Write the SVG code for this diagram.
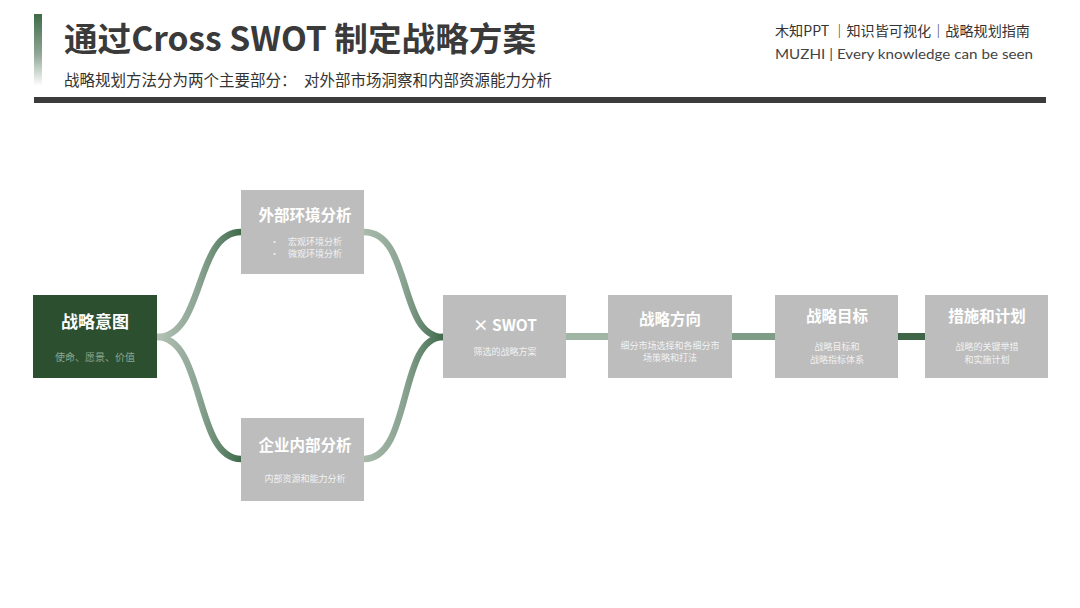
<svg xmlns="http://www.w3.org/2000/svg" width="1080" height="608" viewBox="0 0 1080 608">
<defs>
<linearGradient id="sideBar" x1="0" y1="0" x2="0" y2="1">
<stop offset="0" stop-color="#3e6b48"/>
<stop offset="0.55" stop-color="#8fa595"/>
<stop offset="1" stop-color="#ffffff"/>
</linearGradient>
<linearGradient id="gUL" gradientUnits="userSpaceOnUse" x1="157" y1="0" x2="241" y2="0">
<stop offset="0" stop-color="#b4c2b6"/>
<stop offset="0.5" stop-color="#8aa392"/>
<stop offset="1" stop-color="#3f6b4b"/>
</linearGradient>
<linearGradient id="gUR" gradientUnits="userSpaceOnUse" x1="364" y1="0" x2="443" y2="0">
<stop offset="0" stop-color="#a9baab"/>
<stop offset="0.5" stop-color="#8aa392"/>
<stop offset="1" stop-color="#3f6b4b"/>
</linearGradient>
<style>
.t{font-family:"Noto Sans CJK SC","Noto Sans",sans-serif;}
.box{fill:#bdbdbd;}
.nt{font-family:"Noto Sans CJK SC",sans-serif;font-weight:700;fill:#ffffff;text-anchor:middle;font-size:15.5px;}
.ns{font-family:"Noto Sans CJK SC",sans-serif;fill:#f2f2f2;text-anchor:middle;font-size:9px;}
.curve{fill:none;stroke-width:6.5;}
</style>
</defs>
<rect width="1080" height="608" fill="#ffffff"/>
<g id="header">
<rect x="34" y="14" width="8" height="72" fill="url(#sideBar)"/>
<text class="t" x="64" y="51" font-size="33" font-weight="700" fill="#3a3a3a" textLength="472" lengthAdjust="spacingAndGlyphs">通过Cross SWOT 制定战略方案</text>
<text class="t" x="64" y="86" font-size="15.5" fill="#333333">战略规划方法分为两个主要部分：</text>
<text class="t" x="304" y="86" font-size="15.5" fill="#333333" textLength="248" lengthAdjust="spacingAndGlyphs">对外部市场洞察和内部资源能力分析</text>
<rect x="34" y="97" width="1012" height="6" fill="#3c3c3c"/>
<text class="t" x="775" y="36" font-size="14" fill="#333333" textLength="255" lengthAdjust="spacingAndGlyphs">木知PPT ｜知识皆可视化｜战略规划指南</text>
<text x="775" y="59" font-family="Lato, sans-serif" font-size="14" fill="#444444" textLength="258" lengthAdjust="spacingAndGlyphs">MUZHI | Every knowledge can be seen</text>
</g>
<g id="connectors">
<path class="curve" stroke="url(#gUL)" d="M157,337 C205,337 194,232 241,232"/>
<path class="curve" stroke="url(#gUL)" d="M157,337 C205,337 194,459 241,459"/>
<path class="curve" stroke="url(#gUR)" d="M364,232 C412,232 398,337 443,337"/>
<path class="curve" stroke="url(#gUR)" d="M364,459 C412,459 398,337 443,337"/>
<rect x="566" y="333" width="42" height="7" fill="#a1b5a5"/>
<rect x="732" y="333" width="43" height="7" fill="#7f9c87"/>
<rect x="898" y="333" width="27" height="7" fill="#3e6547"/>
</g>
<g id="node-intent">
<rect x="33" y="295" width="124" height="83" fill="#2c4f2f"/>
<text class="nt" x="95" y="328" style="font-size:17px">战略意图</text>
<text class="ns" x="95" y="361" style="fill:#8ea78f;font-size:10px">使命、愿景、价值</text>
</g>
<g id="node-external">
<rect class="box" x="241" y="190" width="123" height="84"/>
<text class="nt" x="305" y="221">外部环境分析</text>
<text class="ns" x="270" y="245" style="text-anchor:start">•</text>
<text class="ns" x="270" y="257" style="text-anchor:start">•</text>
<text class="ns" x="315" y="245">宏观环境分析</text>
<text class="ns" x="315" y="257">微观环境分析</text>
</g>
<g id="node-internal">
<rect class="box" x="241" y="418" width="123" height="83"/>
<text class="nt" x="305" y="451">企业内部分析</text>
<text class="ns" x="305" y="482">内部资源和能力分析</text>
</g>
<g id="node-swot">
<rect class="box" x="443" y="295" width="123" height="83"/>
<text class="nt" x="505" y="331">× SWOT</text>
<text class="ns" x="505" y="355">筛选的战略方案</text>
</g>
<g id="node-direction">
<rect class="box" x="608" y="295" width="124" height="83"/>
<text class="nt" x="670" y="325">战略方向</text>
<text class="ns" x="670" y="349">细分市场选择和各细分市</text>
<text class="ns" x="670" y="361">场策略和打法</text>
</g>
<g id="node-goal">
<rect class="box" x="775" y="295" width="123" height="83"/>
<text class="nt" x="837" y="322">战略目标</text>
<text class="ns" x="837" y="350">战略目标和</text>
<text class="ns" x="837" y="363">战略指标体系</text>
</g>
<g id="node-plan">
<rect class="box" x="925" y="295" width="123" height="83"/>
<text class="nt" x="987" y="322">措施和计划</text>
<text class="ns" x="987" y="350">战略的关键举措</text>
<text class="ns" x="987" y="363">和实施计划</text>
</g>
</svg>
